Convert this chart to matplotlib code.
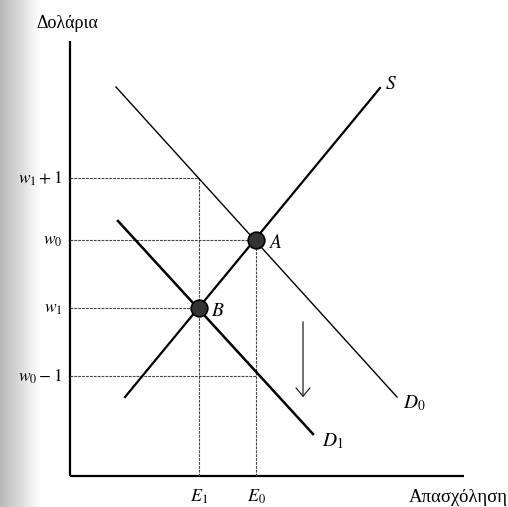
import numpy as np
import matplotlib.pyplot as plt

plt.rcParams['mathtext.fontset'] = 'stix'
plt.rcParams['font.family'] = ['Liberation Serif', 'DejaVu Serif']

# employment positions and wage levels (arbitrary units)
E_vals = [12.9, 18.6]          # E1, E0
E_labels = ['$E_1$', '$E_0$']
w_vals = [29.8, 23.6, 16.8, 10.0]
w_labels = ['$w_1+1$', '$w_0$', '$w_1$', '$w_0-1$']
w_ends = [12.9, 18.6, 12.9, 18.6]   # where each guide line stops

# curves: (x start, x end), (y start, y end)
D0_x = [4.6, 32.7]
D0_y = [38.9, 7.9]
D1_x = [4.8, 24.3]
D1_y = [25.5, 4.2]
S_x = [5.5, 31.0]
S_y = [7.9, 38.8]

pts_x = [18.6, 12.9]
pts_y = [23.6, 16.8]
pts_names = ['$A$', '$B$']

x_max = 39.4
y_max = 43.5

fig = plt.figure(figsize=(5.08, 5.07), dpi=100)

# scan shading at left edge
bg = fig.add_axes([0, 0, 0.08, 1])
grad = np.linspace(0.72, 1.0, 60)[None, :].repeat(10, axis=0)
bg.imshow(grad, cmap='gray', vmin=0, vmax=1, aspect='auto')
bg.axis('off')

ax = fig.add_axes([0, 0, 1, 1])
ax.patch.set_alpha(0)
ax.set_xlim(-7.0, 43.8)
ax.set_ylim(-3.1, 47.6)
ax.axis('off')

# axes
ax.plot([0, 0], [0, y_max], color='black', lw=1.6, solid_capstyle='butt')
ax.plot([0, x_max], [0, 0], color='black', lw=1.6, solid_capstyle='butt')

guide = dict(color='#444444', lw=0.8, ls=(0, (2.5, 1)))
for w, xe in zip(w_vals, w_ends):
    ax.plot([0, xe], [w, w], **guide)
ax.plot([E_vals[0], E_vals[0]], [0, w_vals[0]], **guide)
ax.plot([E_vals[1], E_vals[1]], [0, w_vals[1]], **guide)

ax.plot(D0_x, D0_y, color='black', lw=1.0)
ax.plot(D1_x, D1_y, color='black', lw=1.8)
ax.plot(S_x, S_y, color='black', lw=1.6)

ax.plot(pts_x, pts_y, 'o', ms=12, mfc='#333333', mec='black', mew=1.2, zorder=5)
for px, py, nm in zip(pts_x, pts_y, pts_names):
    ax.text(px + 1.2, py - 0.3, nm, fontsize=14, ha='left', va='center')

ax.annotate('', xy=(23.3, 7.6), xytext=(23.3, 15.7),
            arrowprops=dict(arrowstyle='->,head_length=0.6,head_width=0.5',
                            color='#222222', lw=0.9))

ax.text(S_x[1] + 0.5, S_y[1] + 0.4, '$S$', fontsize=14, ha='left', va='center')
ax.text(D0_x[1] + 0.6, D0_y[1] - 0.6, '$D_0$', fontsize=14, ha='left', va='center')
ax.text(D1_x[1] + 0.9, D1_y[1] - 0.7, '$D_1$', fontsize=14, ha='left', va='center')

for w, lab in zip(w_vals, w_labels):
    ax.text(-0.8, w - 0.1, lab, fontsize=12.5, ha='right', va='center')
for e, lab in zip(E_vals, E_labels):
    ax.text(e, -2.1, lab, fontsize=13, ha='center', va='center')

ax.text(-3.4, 45.2, 'Δολάρια', fontsize=13, ha='left', va='center')
ax.text(33.9, -2.1, 'Απασχόληση', fontsize=13.5, ha='left', va='center')

fig.savefig('out.png', dpi=100)
